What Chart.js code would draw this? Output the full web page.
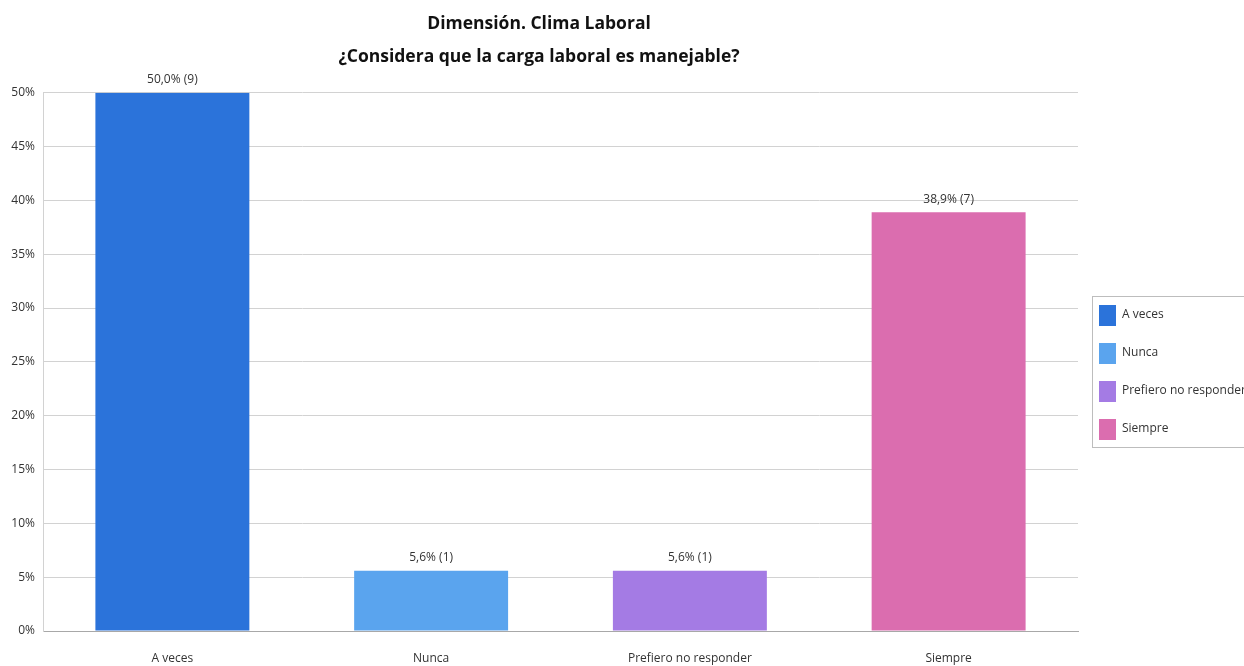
<!DOCTYPE html>
<html>
<head>
<meta charset="utf-8">
<script src="https://cdn.jsdelivr.net/npm/chart.js@4/dist/chart.umd.min.js"></script>
<style>
  body { margin: 0; background: #fff; }
  canvas { display: block; }
</style>
</head>
<body>
<canvas id="bar-chart" width="1244" height="666"></canvas>
<script>
var categories = ["A veces", "Nunca", "Prefiero no responder", "Siempre"];
var percents = [50.0, 5.6, 5.6, 38.9];
var counts = [9, 1, 1, 7];
var barColors = ["#2b73da", "#5aa4ee", "#a47be4", "#db6daf"];
var titleLines = ["Dimensión. Clima Laboral", "¿Considera que la carga laboral es manejable?"];

var FONT = "'Open Sans', 'Noto Sans', sans-serif";

// value labels over each bar, e.g. "50,0% (9)"
var barLabels = {
  id: "barLabels",
  afterDatasetsDraw: function(chart) {
    var ctx = chart.ctx;
    var meta = chart.getDatasetMeta(0);
    ctx.save();
    ctx.font = "12px " + FONT;
    ctx.fillStyle = "#333";
    ctx.textAlign = "center";
    ctx.textBaseline = "middle";
    meta.data.forEach(function(bar, i) {
      var txt = percents[i].toFixed(1).replace(".", ",") + "% (" + counts[i] + ")";
      ctx.fillText(txt, bar.x, bar.y - 13);
    });
    ctx.restore();
  }
};

// boxed legend on the right side
var boxLegend = {
  id: "boxLegend",
  afterDraw: function(chart) {
    var ctx = chart.ctx;
    var left = 1092, top = 296, w = 160, h = 151;
    ctx.save();
    ctx.strokeStyle = "#bdbdbd";
    ctx.lineWidth = 1;
    ctx.strokeRect(left + 0.5, top + 0.5, w, h);
    ctx.font = "12px " + FONT;
    ctx.textBaseline = "middle";
    ctx.textAlign = "left";
    categories.forEach(function(name, i) {
      var cy = top + 19 + i * 38;
      ctx.fillStyle = barColors[i];
      ctx.fillRect(left + 7, cy - 10, 17, 21);
      ctx.fillStyle = "#333";
      ctx.fillText(name, left + 30, cy);
    });
    ctx.restore();
  }
};

new Chart(document.getElementById("bar-chart"), {
  type: "bar",
  data: {
    labels: categories,
    datasets: [{
      data: percents,
      backgroundColor: barColors,
      borderWidth: 0,
      categoryPercentage: 1,
      barPercentage: 0.595
    }]
  },
  options: {
    responsive: false,
    animation: false,
    layout: { padding: { left: 0, right: 166, top: 0, bottom: 0 } },
    plugins: {
      legend: { display: false },
      tooltip: { enabled: false },
      title: {
        display: true,
        text: titleLines,
        color: "#111",
        font: { family: FONT, size: 17.5, weight: "bold", lineHeight: 1.85 },
        padding: { top: 8, bottom: 20 }
      }
    },
    scales: {
      x: {
        afterFit: function(s) { s.height = 35; },
        grid: { display: false },
        border: { color: "#a8a8a8" },
        ticks: { color: "#333", padding: 12, font: { family: FONT, size: 12 } }
      },
      y: {
        min: 0,
        max: 50,
        afterFit: function(s) { s.width = 43; },
        grid: { color: "#d2d2d2", drawTicks: false },
        border: { color: "#d2d2d2" },
        ticks: {
          stepSize: 5,
          padding: 8,
          color: "#333",
          font: { family: FONT, size: 12 },
          callback: function(v) { return v + "%"; }
        }
      }
    }
  },
  plugins: [barLabels, boxLegend]
});
</script>
</body>
</html>
